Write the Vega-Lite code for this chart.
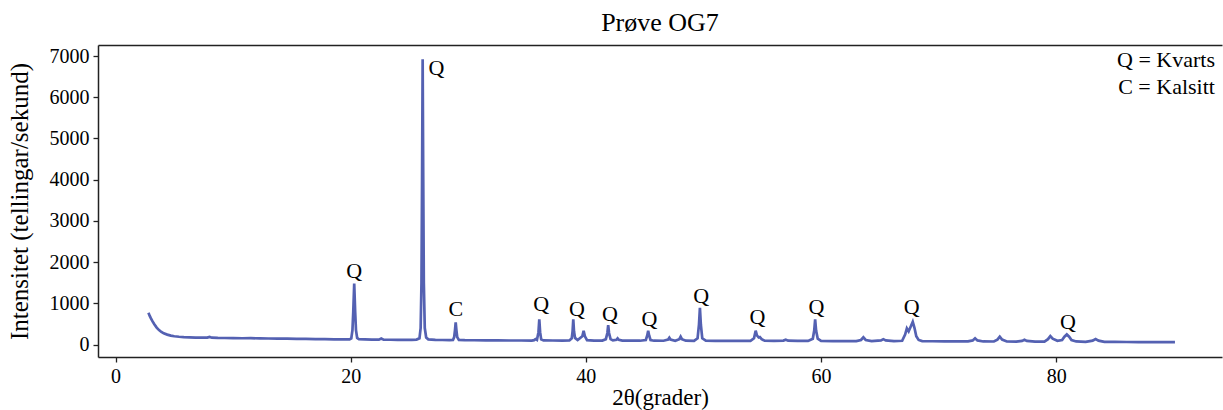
{
  "$schema": "https://vega.github.io/schema/vega-lite/v6.json",
  "width": 1124,
  "height": 312,
  "autosize": {"type": "none"},
  "padding": {"left": 98, "top": 45, "right": 1, "bottom": 53},
  "background": "white",
  "config": {
    "view": {"stroke": null},
    "font": "Liberation Serif",
    "axis": {"labelFont": "Liberation Serif", "titleFont": "Liberation Serif", "labelColor": "black", "titleColor": "black", "titleFontWeight": "normal", "domainColor": "#222", "domainWidth": 1.5, "tickColor": "#222", "tickWidth": 1.3, "grid": false}
  },
  "title": {"text": "Prøve OG7", "font": "Liberation Serif", "fontSize": 26, "fontWeight": "normal", "color": "black", "anchor": "middle", "offset": 9},
  "datasets": {
    "scan": [
      {"t": 2.8, "i": 770}, {"t": 2.9, "i": 700}, {"t": 3.0, "i": 640}, {"t": 3.15, "i": 560}, {"t": 3.3, "i": 490},
      {"t": 3.5, "i": 410}, {"t": 3.7, "i": 350}, {"t": 3.9, "i": 305}, {"t": 4.1, "i": 270}, {"t": 4.4, "i": 240},
      {"t": 4.7, "i": 215}, {"t": 5.0, "i": 200}, {"t": 5.4, "i": 188}, {"t": 5.8, "i": 180}, {"t": 6.3, "i": 174},
      {"t": 6.8, "i": 168}, {"t": 7.3, "i": 166}, {"t": 7.8, "i": 168}, {"t": 8.0, "i": 185}, {"t": 8.2, "i": 165},
      {"t": 8.7, "i": 160}, {"t": 9.3, "i": 158}, {"t": 10.0, "i": 156}, {"t": 10.8, "i": 152}, {"t": 11.5, "i": 154},
      {"t": 12.3, "i": 148}, {"t": 13.0, "i": 146}, {"t": 13.8, "i": 143}, {"t": 14.6, "i": 141}, {"t": 15.4, "i": 138},
      {"t": 16.2, "i": 135}, {"t": 17.0, "i": 132}, {"t": 17.8, "i": 129}, {"t": 18.6, "i": 127}, {"t": 19.4, "i": 125},
      {"t": 19.9, "i": 124}, {"t": 20.05, "i": 150}, {"t": 20.15, "i": 350}, {"t": 20.22, "i": 800}, {"t": 20.3, "i": 1480},
      {"t": 20.38, "i": 800}, {"t": 20.45, "i": 350}, {"t": 20.55, "i": 160}, {"t": 20.7, "i": 128}, {"t": 21.2, "i": 123},
      {"t": 21.8, "i": 120}, {"t": 22.4, "i": 118}, {"t": 22.6, "i": 145}, {"t": 22.8, "i": 118}, {"t": 23.4, "i": 116},
      {"t": 24.0, "i": 114}, {"t": 24.6, "i": 113}, {"t": 25.2, "i": 114}, {"t": 25.6, "i": 120}, {"t": 25.85, "i": 150},
      {"t": 25.95, "i": 400}, {"t": 26.02, "i": 1500}, {"t": 26.07, "i": 4000}, {"t": 26.12, "i": 6920}, {"t": 26.17, "i": 4000},
      {"t": 26.22, "i": 1500}, {"t": 26.3, "i": 400}, {"t": 26.42, "i": 170}, {"t": 26.6, "i": 125}, {"t": 27.2, "i": 114},
      {"t": 27.8, "i": 110}, {"t": 28.4, "i": 108}, {"t": 28.7, "i": 112}, {"t": 28.8, "i": 180}, {"t": 28.87, "i": 350},
      {"t": 28.93, "i": 540}, {"t": 28.99, "i": 350}, {"t": 29.06, "i": 180}, {"t": 29.2, "i": 112}, {"t": 29.7, "i": 106},
      {"t": 30.5, "i": 104}, {"t": 31.5, "i": 102}, {"t": 32.5, "i": 100}, {"t": 33.5, "i": 98}, {"t": 34.5, "i": 97},
      {"t": 35.4, "i": 96}, {"t": 35.6, "i": 105}, {"t": 35.72, "i": 130}, {"t": 35.84, "i": 112}, {"t": 35.97, "i": 300},
      {"t": 36.04, "i": 610}, {"t": 36.11, "i": 300}, {"t": 36.2, "i": 125}, {"t": 36.4, "i": 100}, {"t": 37.2, "i": 97},
      {"t": 38.0, "i": 96}, {"t": 38.6, "i": 98}, {"t": 38.8, "i": 150}, {"t": 38.87, "i": 320}, {"t": 38.93, "i": 610},
      {"t": 38.99, "i": 320}, {"t": 39.08, "i": 160}, {"t": 39.3, "i": 110}, {"t": 39.7, "i": 200}, {"t": 39.81, "i": 330},
      {"t": 39.92, "i": 200}, {"t": 40.1, "i": 105}, {"t": 40.7, "i": 95}, {"t": 41.4, "i": 96}, {"t": 41.7, "i": 130},
      {"t": 41.83, "i": 280}, {"t": 41.9, "i": 470}, {"t": 41.97, "i": 280}, {"t": 42.1, "i": 130}, {"t": 42.3, "i": 100},
      {"t": 42.6, "i": 115}, {"t": 42.7, "i": 150}, {"t": 42.8, "i": 115}, {"t": 43.1, "i": 95}, {"t": 43.8, "i": 93},
      {"t": 44.6, "i": 92}, {"t": 45.1, "i": 110}, {"t": 45.22, "i": 220}, {"t": 45.3, "i": 335}, {"t": 45.38, "i": 220},
      {"t": 45.5, "i": 110}, {"t": 45.8, "i": 92}, {"t": 46.6, "i": 91}, {"t": 47.0, "i": 120}, {"t": 47.1, "i": 165},
      {"t": 47.2, "i": 120}, {"t": 47.6, "i": 92}, {"t": 47.95, "i": 130}, {"t": 48.06, "i": 190}, {"t": 48.17, "i": 130},
      {"t": 48.5, "i": 92}, {"t": 49.2, "i": 90}, {"t": 49.5, "i": 150}, {"t": 49.62, "i": 480}, {"t": 49.7, "i": 890},
      {"t": 49.78, "i": 480}, {"t": 49.9, "i": 150}, {"t": 50.2, "i": 94}, {"t": 51.0, "i": 90}, {"t": 52.0, "i": 89},
      {"t": 53.0, "i": 88}, {"t": 54.0, "i": 87}, {"t": 54.3, "i": 150}, {"t": 54.44, "i": 335}, {"t": 54.55, "i": 220},
      {"t": 54.7, "i": 170}, {"t": 54.8, "i": 180}, {"t": 54.95, "i": 130}, {"t": 55.2, "i": 92}, {"t": 56.0, "i": 86},
      {"t": 56.8, "i": 95}, {"t": 57.0, "i": 115}, {"t": 57.2, "i": 92}, {"t": 58.0, "i": 86}, {"t": 58.9, "i": 87},
      {"t": 59.3, "i": 140}, {"t": 59.42, "i": 340}, {"t": 59.5, "i": 610}, {"t": 59.58, "i": 340}, {"t": 59.72, "i": 140},
      {"t": 60.0, "i": 88}, {"t": 61.0, "i": 84}, {"t": 62.0, "i": 83}, {"t": 63.0, "i": 82}, {"t": 63.4, "i": 110},
      {"t": 63.6, "i": 175}, {"t": 63.8, "i": 110}, {"t": 64.3, "i": 82}, {"t": 65.1, "i": 100}, {"t": 65.3, "i": 130},
      {"t": 65.5, "i": 100}, {"t": 66.2, "i": 81}, {"t": 66.9, "i": 90}, {"t": 67.15, "i": 240}, {"t": 67.3, "i": 390},
      {"t": 67.45, "i": 320}, {"t": 67.65, "i": 450}, {"t": 67.8, "i": 550}, {"t": 67.95, "i": 400}, {"t": 68.1, "i": 200},
      {"t": 68.3, "i": 110}, {"t": 68.6, "i": 82}, {"t": 69.5, "i": 79}, {"t": 70.5, "i": 77}, {"t": 71.5, "i": 76},
      {"t": 72.5, "i": 75}, {"t": 72.9, "i": 100}, {"t": 73.1, "i": 150}, {"t": 73.3, "i": 100}, {"t": 73.8, "i": 74},
      {"t": 74.7, "i": 73}, {"t": 75.0, "i": 120}, {"t": 75.2, "i": 190}, {"t": 75.4, "i": 120}, {"t": 75.8, "i": 73},
      {"t": 76.6, "i": 71}, {"t": 77.1, "i": 88}, {"t": 77.3, "i": 115}, {"t": 77.5, "i": 88}, {"t": 78.2, "i": 70},
      {"t": 79.0, "i": 72}, {"t": 79.3, "i": 130}, {"t": 79.5, "i": 205}, {"t": 79.7, "i": 140}, {"t": 80.1, "i": 90},
      {"t": 80.5, "i": 110}, {"t": 80.7, "i": 190}, {"t": 80.9, "i": 245}, {"t": 81.1, "i": 190}, {"t": 81.3, "i": 110},
      {"t": 81.7, "i": 75}, {"t": 82.5, "i": 66}, {"t": 83.1, "i": 95}, {"t": 83.35, "i": 135}, {"t": 83.6, "i": 95},
      {"t": 84.1, "i": 66}, {"t": 85.0, "i": 62}, {"t": 86.0, "i": 61}, {"t": 87.0, "i": 60}, {"t": 88.0, "i": 58},
      {"t": 89.0, "i": 57}, {"t": 90.1, "i": 56}
    ],
    "labels": [
      {"t": 20.3, "i": 1784, "lab": "Q"},
      {"t": 27.3, "i": 6710, "lab": "Q"},
      {"t": 28.95, "i": 862, "lab": "C"},
      {"t": 36.2, "i": 983, "lab": "Q"},
      {"t": 39.25, "i": 862, "lab": "Q"},
      {"t": 42.05, "i": 740, "lab": "Q"},
      {"t": 45.4, "i": 619, "lab": "Q"},
      {"t": 49.8, "i": 1177, "lab": "Q"},
      {"t": 54.6, "i": 668, "lab": "Q"},
      {"t": 59.6, "i": 910, "lab": "Q"},
      {"t": 67.7, "i": 910, "lab": "Q"},
      {"t": 81.0, "i": 546, "lab": "Q"}
    ],
    "legend": [
      {"t": 93.5, "i": 6905, "lab": "Q = Kvarts"},
      {"t": 93.5, "i": 6250, "lab": "C = Kalsitt"}
    ]
  },
  "layer": [
    {
      "data": {"name": "scan"},
      "mark": {"type": "line", "color": "#5461b2", "strokeWidth": 2.7, "clip": true},
      "encoding": {
        "x": {"field": "t", "type": "quantitative", "scale": {"domain": [-1.49, 94.1], "nice": false, "zero": false},
              "axis": {"orient": "bottom", "values": [0, 20, 40, 60, 80], "format": "d", "labelFontSize": 20, "tickSize": 5, "labelPadding": 4, "title": "2θ(grader)", "titleFontSize": 23, "titlePadding": 0}},
        "y": {"field": "i", "type": "quantitative", "scale": {"domain": [-303, 7269], "nice": false, "zero": false},
              "axis": {"values": [0, 1000, 2000, 3000, 4000, 5000, 6000, 7000], "format": "d", "labelFontSize": 20, "tickSize": 5, "labelPadding": 4, "title": "Intensitet (tellingar/sekund)", "titleFontSize": 25, "titlePadding": 17}}
      }
    },
    {
      "data": {"name": "labels"},
      "mark": {"type": "text", "font": "Liberation Serif", "fontSize": 22, "color": "black", "align": "center", "baseline": "middle"},
      "encoding": {
        "x": {"field": "t", "type": "quantitative", "axis": {"orient": "top", "labels": false, "ticks": false, "title": null, "domain": true}},
        "y": {"field": "i", "type": "quantitative", "axis": null},
        "text": {"field": "lab"}
      }
    },
    {
      "data": {"name": "legend"},
      "mark": {"type": "text", "font": "Liberation Serif", "fontSize": 22, "color": "black", "align": "right", "baseline": "middle"},
      "encoding": {
        "x": {"field": "t", "type": "quantitative", "axis": null},
        "y": {"field": "i", "type": "quantitative", "axis": null},
        "text": {"field": "lab"}
      }
    }
  ],
  "resolve": {"axis": {"x": "independent", "y": "independent"}}
}
